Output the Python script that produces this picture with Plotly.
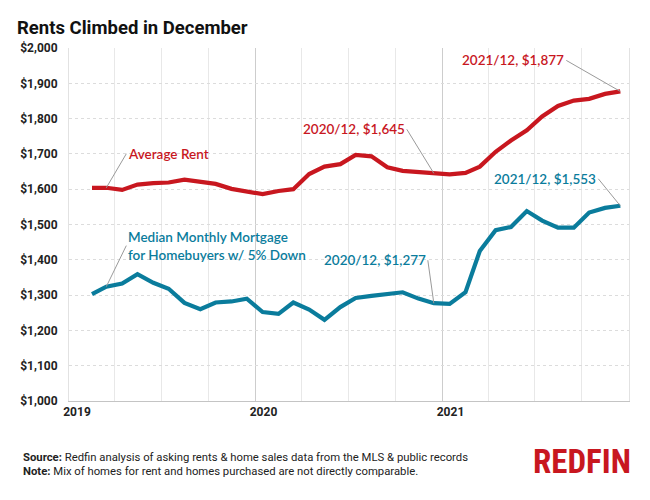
import pandas as pd
import plotly.graph_objects as go

# ---- data ----
months = pd.date_range("2019-02-01", "2021-12-01", freq="MS") + pd.Timedelta(days=14)
avg_rent = [1604, 1604, 1598, 1613, 1617, 1619, 1627, 1621, 1615, 1601, 1594,
            1586, 1595, 1600, 1643, 1664, 1671, 1697, 1693, 1662, 1652, 1649, 1645,
            1642, 1646, 1664, 1706, 1738, 1767, 1806, 1836, 1851, 1856, 1870, 1877]
mortgage = [1303, 1324, 1333, 1359, 1335, 1318, 1278, 1260, 1279, 1282, 1290,
            1252, 1247, 1279, 1259, 1230, 1266, 1292, 1298, 1303, 1308, 1290, 1277,
            1275, 1308, 1425, 1484, 1493, 1538, 1511, 1491, 1491, 1534, 1547, 1553]
year_ticks = ["2019-01-01", "2020-01-01", "2021-01-01", "2022-01-01"]
year_labels = ["2019", "2020", "2021", ""]
y_ticks = list(range(1000, 2001, 100))

RED = "#C8171F"
TEAL = "#0A7C9C"
LEADER = "#9a9a9a"

fig = go.Figure()
fig.add_trace(go.Scatter(x=months, y=avg_rent, mode="lines",
                         line=dict(color=RED, width=4.2), hoverinfo="skip"))
fig.add_trace(go.Scatter(x=months, y=mortgage, mode="lines",
                         line=dict(color=TEAL, width=4.2), hoverinfo="skip"))

ann_font = dict(family="Lato, Roboto, sans-serif", size=13.5, weight=600)

def label(i, series, text, color, ax, ay, xanchor):
    fig.add_annotation(x=months[i], y=series[i], text=text, showarrow=True,
                       arrowhead=0, arrowwidth=1, arrowcolor=LEADER,
                       ax=ax, ay=ay, xanchor=xanchor, yanchor="middle",
                       align="left", font=dict(color=color, **ann_font))

label(1, avg_rent, "Average Rent", RED, 20, -34, "left")
label(1, mortgage, "Median Monthly Mortgage<br>for Homebuyers w/ 5% Down", TEAL, 20, -41, "left")
label(22, avg_rent, "2020/12, $1,645", RED, -27, -44, "right")
label(34, avg_rent, "2021/12, $1,877", RED, -54, -31, "right")
label(22, mortgage, "2020/12, $1,277", TEAL, -6, -43, "right")
label(34, mortgage, "2021/12, $1,553", TEAL, -22, -27, "right")

foot_font = dict(family="Roboto, sans-serif", size=11.3, color="#222")
fig.add_annotation(xref="paper", yref="paper", x=-0.085, y=-0.159, showarrow=False,
                   xanchor="left", yanchor="middle", font=foot_font,
                   text="<b>Source:</b> Redfin analysis of asking rents &amp; home sales data from the MLS &amp; public records")
fig.add_annotation(xref="paper", yref="paper", x=-0.085, y=-0.201, showarrow=False,
                   xanchor="left", yanchor="middle", font=foot_font,
                   text="<b>Note:</b> Mix of homes for rent and homes purchased are not directly comparable.")
fig.add_annotation(xref="paper", yref="paper", x=1.007, y=-0.172, showarrow=False,
                   xanchor="right", yanchor="middle",
                   font=dict(family="Liberation Sans Narrow, Roboto Condensed, Arial Narrow, Roboto, sans-serif",
                             size=33, color="#C8171F", weight="bold"),
                   text="REDFIN")

fig.update_layout(
    width=642, height=492,
    margin=dict(l=57, r=21, t=40, b=99),
    paper_bgcolor="white", plot_bgcolor="white",
    showlegend=False,
    title=dict(text="Rents Climbed in December", xref="container", yref="container",
               x=0.014, xanchor="left", y=0.961, yanchor="middle", pad=dict(l=0, r=0, t=0, b=0),
               font=dict(family="Roboto, sans-serif", size=18.5, color="#111", weight="bold")),
    xaxis=dict(type="date", range=["2019-01-01", "2022-01-01"],
               tickmode="array", tickvals=year_ticks, ticktext=year_labels,
               ticklabelshift=8, ticks="", showgrid=True, gridcolor="#cdcdcd", gridwidth=1,
               minor=dict(dtick="M3", tick0="2019-01-01", showgrid=True, gridcolor="#e8e8e8", ticks=""),
               showline=True, linecolor="#c4c4c4", linewidth=1, zeroline=False,
               tickfont=dict(family="Roboto, sans-serif", size=12, color="#222", weight="bold")),
    yaxis=dict(range=[1000, 2000], tickmode="array", tickvals=y_ticks,
               tickformat="$,.0f", showgrid=True, gridcolor="#dcdcdc", griddash="dot",
               showline=True, mirror=True, linecolor="#e2e2e2", linewidth=1,
               zeroline=False, ticks="", ticklabelstandoff=8,
               tickfont=dict(family="Roboto, sans-serif", size=12, color="#222", weight="bold")),
)

fig.write_html("out.html")
